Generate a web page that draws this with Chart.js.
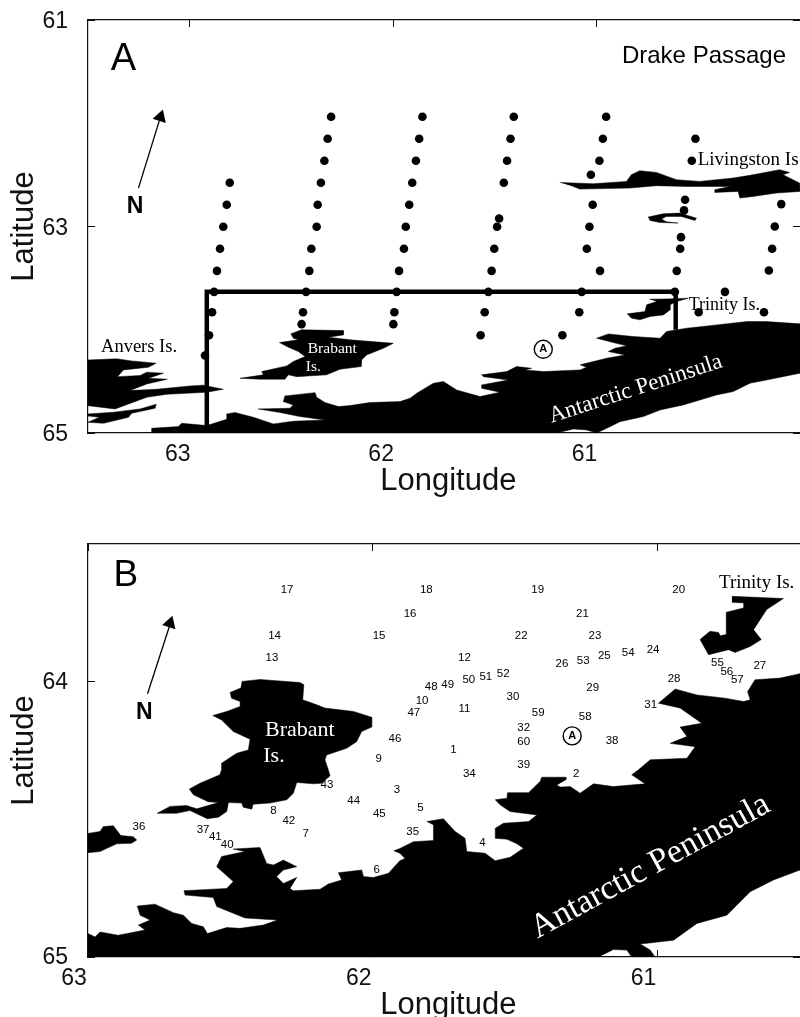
<!DOCTYPE html>
<html>
<head>
<meta charset="utf-8">
<title>Stations, Drake Passage</title>
<script src="https://cdn.jsdelivr.net/npm/chart.js@4/dist/chart.umd.min.js"></script>
<style>
    html, body { margin: 0; padding: 0; background: #fff; overflow: hidden; }
    canvas { position: absolute; left: 0; }
    #panelA { top: 0; }
    #panelB { top: 510px; }
</style>
</head>
<body>
<canvas id="panelA" width="800" height="510"></canvas>
<canvas id="panelB" width="800" height="507"></canvas>
<script>
// all values are [degrees W, degrees S]
const lonTicksA = [63, 62, 61];
const latTicksA = [61, 63, 65];
const lonTicksB = [63, 62, 61];
const latTicksB = [64, 65];

// panel A sampling tracks
const track1 = [[62.803,62.576],[62.818,62.789],[62.835,63.003],[62.851,63.216],[62.866,63.430],[62.880,63.633],[62.890,63.830],[62.905,64.053],[62.925,64.250]];
const track2 = [[62.305,61.937],[62.322,62.150],[62.338,62.363],[62.355,62.576],[62.371,62.789],[62.376,63.003],[62.402,63.216],[62.412,63.430],[62.428,63.633],[62.443,63.830],[62.450,63.946]];
const track3 = [[61.856,61.937],[61.872,62.150],[61.888,62.363],[61.906,62.576],[61.921,62.789],[61.938,63.003],[61.947,63.216],[61.971,63.430],[61.983,63.633],[61.994,63.830],[61.999,63.946]];
const track4 = [[61.407,61.937],[61.423,62.150],[61.440,62.363],[61.456,62.576],[61.479,62.922],[61.489,63.003],[61.503,63.216],[61.516,63.430],[61.532,63.633],[61.550,63.830],[61.570,64.053]];
const track5 = [[60.953,61.937],[60.969,62.150],[60.986,62.363],[61.028,62.499],[61.019,62.789],[61.035,63.003],[61.048,63.216],[60.983,63.430],[61.073,63.633],[61.085,63.830],[61.168,64.053]];
const track6 = [[60.514,62.150],[60.532,62.363],[60.565,62.741],[60.570,62.844],[60.585,63.103],[60.589,63.216],[60.606,63.430],[60.615,63.633]];
const track7 = [[60.092,62.783],[60.124,63.000],[60.137,63.216],[60.153,63.426],[60.369,63.633],[60.498,63.830],[60.177,63.830]];
const insetBox = [[62.916,64.96],[62.916,63.633],[60.611,63.633],[60.611,64.0]];

// panel A coastline
const anversA = [[63.5,64.292],[63.359,64.282],[63.285,64.302],[63.165,64.324],[63.203,64.363],[63.326,64.389],[63.355,64.454],[63.244,64.444],[63.211,64.411],[63.129,64.421],[63.203,64.470],[63.110,64.479],[63.211,64.525],[63.293,64.589],[63.162,64.576],[62.998,64.544],[62.933,64.537],[62.835,64.576],[62.916,64.605],[63.113,64.625],[63.211,64.654],[63.367,64.767],[63.5,64.735]];
const anversLowA = [[63.5,64.815],[63.375,64.799],[63.244,64.767],[63.165,64.722],[63.170,64.760],[63.285,64.809],[63.301,64.848],[63.424,64.906],[63.5,64.896],[63.444,64.848],[63.5,64.835]];
const brabantA = [[62.504,64.040],[62.450,64.001],[62.245,64.008],[62.245,64.050],[62.319,64.072],[62.212,64.098],[61.999,64.131],[62.048,64.179],[62.130,64.244],[62.155,64.292],[62.158,64.357],[62.261,64.382],[62.327,64.437],[62.474,64.454],[62.515,64.437],[62.532,64.479],[62.654,64.479],[62.753,64.470],[62.638,64.437],[62.646,64.405],[62.523,64.350],[62.491,64.308],[62.433,64.260],[62.466,64.211],[62.515,64.169],[62.559,64.124],[62.466,64.098],[62.491,64.082]];
const peninsulaA = [[63.187,65],[63.187,64.954],[63.056,64.938],[63.039,64.906],[62.916,64.928],[62.818,64.867],[62.818,64.815],[62.777,64.802],[62.687,64.848],[62.589,64.912],[62.491,64.886],[62.335,64.873],[62.458,64.841],[62.556,64.802],[62.663,64.767],[62.507,64.760],[62.491,64.728],[62.540,64.696],[62.532,64.641],[62.384,64.609],[62.376,64.654],[62.335,64.705],[62.269,64.744],[62.212,64.734],[62.114,64.705],[61.966,64.696],[61.917,64.663],[61.884,64.615],[61.802,64.518],[61.753,64.502],[61.688,64.583],[61.573,64.647],[61.475,64.605],[61.565,64.567],[61.565,64.534],[61.434,64.486],[61.556,64.454],[61.565,64.437],[61.442,64.405],[61.393,64.357],[61.319,64.373],[61.352,64.389],[61.262,64.405],[61.081,64.389],[61.049,64.363],[61.081,64.340],[61.016,64.308],[60.950,64.276],[60.860,64.244],[60.942,64.211],[60.909,64.179],[60.852,64.156],[60.918,64.124],[61.000,64.082],[60.942,64.040],[60.819,64.066],[60.688,64.082],[60.656,64.017],[60.557,63.985],[60.410,63.953],[60.262,63.921],[60.164,63.921],[60.0,63.943],[60.0,64.421],[60.164,64.486],[60.246,64.518],[60.328,64.599],[60.410,64.631],[60.492,64.680],[60.574,64.728],[60.688,64.777],[60.770,64.841],[60.885,64.890],[60.950,64.954],[61.000,65],[61.049,64.970],[61.114,64.961],[61.196,65]];
const trinityA = [[60.741,63.704],[60.656,63.701],[60.549,63.694],[60.606,63.727],[60.639,63.759],[60.639,63.808],[60.672,63.856],[60.737,63.872],[60.787,63.904],[60.828,63.888],[60.849,63.846],[60.762,63.824],[60.754,63.759],[60.705,63.727]];
const livingstonA = [[61.181,62.573],[61.017,62.586],[60.853,62.563],[60.829,62.499],[60.788,62.460],[60.706,62.476],[60.607,62.547],[60.493,62.563],[60.329,62.531],[60.231,62.499],[60.100,62.450],[60.051,62.476],[60.083,62.499],[60.001,62.580],[60.0,62.660],[60.116,62.676],[60.231,62.709],[60.296,62.725],[60.304,62.660],[60.419,62.670],[60.419,62.644],[60.345,62.612],[60.558,62.612],[60.706,62.605],[60.837,62.628],[61.082,62.638],[61.115,62.612]];
const deceptionA = [[60.747,62.909],[60.673,62.877],[60.591,62.870],[60.509,62.919],[60.517,62.941],[60.583,62.903],[60.657,62.903],[60.681,62.928],[60.657,62.954],[60.599,62.967],[60.689,62.961],[60.738,62.941]];

// panel B coastline
const anversB = [[63,64.551],[62.958,64.544],[62.946,64.526],[62.911,64.523],[62.885,64.559],[62.841,64.563],[62.829,64.575],[62.847,64.587],[62.899,64.589],[62.958,64.617],[63,64.621]];
const brabantB = [[62.460,63.999],[62.396,63.992],[62.256,64.003],[62.242,64.011],[62.246,64.066],[62.197,64.084],[62.168,64.096],[62.068,64.108],[62.004,64.129],[62.004,64.165],[62.039,64.181],[62.057,64.218],[62.092,64.242],[62.162,64.266],[62.168,64.284],[62.156,64.321],[62.150,64.342],[62.180,64.369],[62.209,64.371],[62.267,64.366],[62.279,64.405],[62.302,64.429],[62.361,64.441],[62.420,64.445],[62.425,64.463],[62.455,64.456],[62.460,64.441],[62.507,64.439],[62.513,64.472],[62.542,64.492],[62.581,64.498],[62.642,64.468],[62.689,64.478],[62.757,64.478],[62.712,64.453],[62.654,64.450],[62.618,64.462],[62.542,64.439],[62.578,64.436],[62.630,64.411],[62.644,64.390],[62.607,64.369],[62.537,64.338],[62.531,64.320],[62.531,64.296],[62.478,64.260],[62.437,64.248],[62.431,64.209],[62.490,64.181],[62.531,64.139],[62.562,64.123],[62.513,64.108],[62.466,64.090],[62.466,64.072],[62.496,64.060],[62.501,64.039],[62.464,64.023]];
const trinityB = [[60.739,63.690],[60.558,63.698],[60.617,63.738],[60.663,63.811],[60.636,63.847],[60.675,63.872],[60.728,63.894],[60.751,63.884],[60.821,63.902],[60.851,63.847],[60.816,63.817],[60.786,63.821],[60.780,63.833],[60.759,63.829],[60.759,63.748],[60.698,63.732],[60.698,63.714],[60.739,63.712]];
const peninsulaB = [[63,65],[63,64.915],[62.975,64.927],[62.958,64.909],[62.894,64.921],[62.800,64.902],[62.823,64.884],[62.782,64.866],[62.817,64.848],[62.827,64.815],[62.765,64.808],[62.700,64.839],[62.665,64.848],[62.636,64.878],[62.595,64.890],[62.581,64.915],[62.513,64.893],[62.466,64.896],[62.384,64.884],[62.335,64.866],[62.449,64.858],[62.548,64.817],[62.560,64.784],[62.659,64.775],[62.663,64.759],[62.513,64.751],[62.490,64.726],[62.548,64.672],[62.531,64.635],[62.449,64.617],[62.490,64.608],[62.396,64.602],[62.373,64.660],[62.349,64.666],[62.314,64.648],[62.267,64.672],[62.314,64.684],[62.338,64.708],[62.314,64.733],[62.267,64.711],[62.291,64.751],[62.279,64.759],[62.185,64.754],[62.156,64.735],[62.109,64.720],[62.121,64.694],[62.039,64.684],[62.033,64.708],[61.998,64.711],[61.945,64.696],[61.905,64.650],[61.887,64.642],[61.905,64.623],[61.926,64.614],[61.905,64.606],[61.857,64.581],[61.787,64.577],[61.787,64.520],[61.810,64.508],[61.752,64.498],[61.711,64.544],[61.676,64.569],[61.670,64.617],[61.606,64.623],[61.570,64.650],[61.518,64.638],[61.471,64.605],[61.494,64.589],[61.529,64.572],[61.570,64.569],[61.570,64.532],[61.541,64.514],[61.453,64.508],[61.424,64.484],[61.518,64.472],[61.553,64.447],[61.570,64.429],[61.529,64.423],[61.527,64.403],[61.453,64.403],[61.412,64.362],[61.407,64.347],[61.322,64.347],[61.322,64.356],[61.354,64.375],[61.342,64.383],[61.307,64.381],[61.272,64.405],[61.225,64.371],[61.155,64.381],[61.044,64.371],[61.091,64.338],[61.067,64.320],[61.026,64.284],[60.897,64.278],[60.868,64.236],[60.956,64.224],[60.897,64.199],[60.921,64.165],[60.845,64.151],[60.921,64.096],[60.997,64.078],[60.938,64.027],[60.862,64.048],[60.763,64.060],[60.698,64.072],[60.675,64.066],[60.684,64.036],[60.658,63.993],[60.570,63.987],[60.5,63.971],[60.5,64.684],[60.593,64.720],[60.675,64.763],[60.757,64.848],[60.862,64.878],[60.944,64.939],[61.061,64.953],[61.026,64.975],[61.009,65],[61.091,65],[61.108,64.975],[61.155,64.973],[61.208,65]];

// panel B stations (33 is not on the map)
const stationNo = ["1","2","3","4","5","6","7","8","9","10","11","12","13","14","15","16","17","18","19","20","21","22","23","24","25","26","27","28","29","30","31","32","34","35","36","37","38","39","40","41","42","43","44","45","46","47","48","49","50","51","52","53","54","55","56","57","58","59","60"];
const stationLon = [61.717,61.286,61.915,61.615,61.833,61.986,62.236,62.349,61.979,61.827,61.678,61.678,62.354,62.345,61.978,61.869,62.301,61.812,61.421,60.926,61.264,61.479,61.220,61.016,61.187,61.336,60.641,60.942,61.228,61.508,61.024,61.470,61.661,61.860,62.821,62.596,61.160,61.470,62.511,62.553,62.295,62.161,62.067,61.977,61.922,61.856,61.795,61.737,61.663,61.603,61.542,61.261,61.103,60.790,60.757,60.720,61.254,61.419,61.470];
const stationLat = [64.249,64.333,64.393,64.585,64.457,64.683,64.553,64.468,64.281,64.069,64.100,63.915,63.915,63.834,63.835,63.752,63.667,63.667,63.667,63.668,63.753,63.835,63.835,63.883,63.906,63.934,63.941,63.989,64.021,64.055,64.083,64.169,64.333,64.544,64.529,64.538,64.216,64.301,64.592,64.564,64.507,64.376,64.432,64.481,64.207,64.112,64.017,64.010,63.993,63.983,63.970,63.923,63.895,63.932,63.963,63.993,64.129,64.112,64.218];

const SANS = "'Liberation Sans', Arial, sans-serif";
const SERIF = "'Liberation Serif', serif";

const textA = [
    { text: "A", lon: 63.326, lat: 61.378, font: "38px " + SANS },
    { text: "Drake Passage", lon: 60.472, lat: 61.355, font: "24px " + SANS },
    { text: "N", lon: 63.269, lat: 62.808, font: "bold 23px " + SANS },
    { text: "Livingston Is", lon: 60.255, lat: 62.36, font: "19px " + SERIF },
    { text: "Trinity Is.", lon: 60.372, lat: 63.76, font: "18px " + SERIF },
    { text: "Anvers Is.", lon: 63.249, lat: 64.165, font: "18.5px " + SERIF },
    { text: "Brabant", lon: 62.299, lat: 64.185, font: "15.5px " + SERIF, color: "#fff" },
    { text: "Is.", lon: 62.392, lat: 64.36, font: "15.5px " + SERIF, color: "#fff" },
    { text: "Antarctic Peninsula", lon: 60.808, lat: 64.575, font: "23px " + SERIF, color: "#fff", rot: -18 },
    { text: "A", lon: 61.262, lat: 64.189, font: "bold 11px " + SANS },
];
const textB = [
    { text: "B", lon: 62.867, lat: 63.615, font: "37px " + SANS },
    { text: "N", lon: 62.802, lat: 64.113, font: "bold 23px " + SANS },
    { text: "Trinity Is.", lon: 60.652, lat: 63.642, font: "19px " + SERIF },
    { text: "Brabant", lon: 62.256, lat: 64.176, font: "22px " + SERIF, color: "#fff" },
    { text: "Is.", lon: 62.347, lat: 64.269, font: "22px " + SERIF, color: "#fff" },
    { text: "Antarctic Peninsula", lon: 61.025, lat: 64.672, font: "34px " + SERIF, color: "#fff", rot: -28.7 },
    { text: "A", lon: 61.300, lat: 64.197, font: "bold 11px " + SANS },
];

const toPts = (list) => list.map((p) => ({ x: p[0], y: p[1] }));

function land(list) {
    return {
        data: toPts(list),
        showLine: true,
        fill: "shape",
        backgroundColor: "#000",
        borderColor: "#000",
        borderWidth: 0.5,
        tension: 0,
        pointRadius: 0,
    };
}

function dots(list) {
    return {
        data: toPts(list),
        backgroundColor: "#000",
        borderWidth: 0,
        pointRadius: 4.3,
    };
}

function arrow(tail, neck, head, angle) {
    return [
        {
            data: toPts([head]),
            pointStyle: "triangle",
            rotation: angle,
            backgroundColor: "#000",
            borderWidth: 0,
            pointRadius: 8,
        },
        {
            data: toPts([tail, neck]),
            showLine: true,
            borderColor: "#000",
            borderWidth: 1.3,
            pointRadius: 0,
        },
    ];
}

function circleMark(point) {
    return {
        data: toPts([point]),
        backgroundColor: "#fff",
        borderColor: "#000",
        borderWidth: 1.4,
        pointRadius: 9,
    };
}

function textPlugin(items) {
    return {
        id: "mapText",
        afterDatasetsDraw(chart) {
            const ctx = chart.ctx;
            ctx.save();
            ctx.textAlign = "center";
            ctx.textBaseline = "middle";
            items.forEach((t) => {
                ctx.save();
                ctx.translate(chart.scales.x.getPixelForValue(t.lon), chart.scales.y.getPixelForValue(t.lat));
                ctx.rotate(((t.rot || 0) * Math.PI) / 180);
                ctx.font = t.font;
                ctx.fillStyle = t.color || "#000";
                ctx.fillText(t.text, 0, 0);
                ctx.restore();
            });
            ctx.restore();
        },
    };
}

// station numbers sit on the points of a hidden-marker dataset
const stationText = {
    id: "stationText",
    afterDatasetsDraw(chart) {
        const ctx = chart.ctx;
        const meta = chart.getDatasetMeta(0);
        ctx.save();
        ctx.font = "11.5px " + SANS;
        ctx.fillStyle = "#000";
        ctx.textAlign = "center";
        ctx.textBaseline = "middle";
        meta.data.forEach((pt, i) => ctx.fillText(stationNo[i], pt.x, pt.y));
        ctx.restore();
    },
};

function axis(cfg) {
    const isX = cfg.id === "x" || cfg.id === "x2";
    const hasTitle = cfg.title != null;
    return {
        type: "linear",
        position: cfg.position,
        reverse: true,
        min: cfg.min,
        max: cfg.max,
        afterBuildTicks: (s) => { s.ticks = cfg.ticks.map((v) => ({ value: v })); },
        afterFit: (s) => {
            if (isX) { s.height = cfg.size; } else { s.width = cfg.size; }
            // tick padding would otherwise push the plot area in
            s.paddingLeft = 0;
            s.paddingRight = 0;
            s.paddingTop = 0;
            s.paddingBottom = 0;
        },
        border: { display: cfg.border !== false, color: "#111", width: 1.2 },
        grid: { drawOnChartArea: false, tickLength: -7, color: "#111", lineWidth: 1 },
        ticks: {
            display: hasTitle,
            autoSkip: false,
            maxRotation: 0,
            color: "#111",
            font: { size: 23, family: SANS },
            padding: cfg.padding || 0,
            labelOffset: cfg.labelOffset || 0,
            callback: (v) => String(v),
        },
        title: {
            display: hasTitle,
            text: cfg.title,
            color: "#111",
            font: { size: 31, family: SANS },
            padding: cfg.titlePadding,
        },
    };
}

function options(cfg) {
    return {
        responsive: false,
        animation: false,
        events: [],
        layout: { padding: 0, autoPadding: false },
        plugins: { legend: { display: false }, tooltip: { enabled: false } },
        scales: {
            x: axis({ id: "x", position: "bottom", min: cfg.lonMin, max: cfg.lonMax, ticks: cfg.lonTicks, size: cfg.bottom, padding: 15, labelOffset: cfg.xOffset, title: " Longitude", titlePadding: { top: 0, bottom: cfg.titleBottom } }),
            x2: axis({ id: "x2", position: "top", min: cfg.lonMin, max: cfg.lonMax, ticks: cfg.lonTicks, size: cfg.top }),
            y: axis({ id: "y", position: "left", min: cfg.latMin, max: cfg.latMax, ticks: cfg.latTicks, size: 88, padding: 27, labelOffset: cfg.yOffset, title: "Latitude", titlePadding: { top: 6, bottom: 0 } }),
            y2: axis({ id: "y2", position: "right", min: cfg.latMin, max: cfg.latMax, ticks: cfg.latTicks, size: 0, border: false }),
        },
    };
}

new Chart(document.getElementById("panelA"), {
    type: "scatter",
    data: {
        datasets: [
            dots(track1), dots(track2), dots(track3), dots(track4), dots(track5), dots(track6), dots(track7),
            { data: toPts(insetBox), showLine: true, borderColor: "#000", borderWidth: 4.5, pointRadius: 0 },
            ...arrow([63.252, 62.628], [63.149, 61.972], [63.144, 61.940], 18),
            circleMark([61.262, 64.189]),
            land(anversA), land(anversLowA), land(brabantA), land(peninsulaA), land(trinityA), land(livingstonA), land(deceptionA),
        ],
    },
    options: options({ lonMin: 60, lonMax: 63.5, latMin: 61, latMax: 65, lonTicks: lonTicksA, latTicks: latTicksA, top: 20, bottom: 77, xOffset: -12, yOffset: 2, titleBottom: 10 }),
    plugins: [textPlugin(textA)],
});

new Chart(document.getElementById("panelB"), {
    type: "scatter",
    data: {
        datasets: [
            { data: stationLon.map((lon, i) => ({ x: lon, y: stationLat[i] })), pointRadius: 0, borderWidth: 0 },
            ...arrow([62.791, 64.044], [62.714, 63.799], [62.712, 63.788], 17.5),
            circleMark([61.300, 64.197]),
            land(anversB), land(brabantB), land(trinityB), land(peninsulaB),
        ],
    },
    options: options({ lonMin: 60.5, lonMax: 63, latMin: 63.5, latMax: 65, lonTicks: lonTicksB, latTicks: latTicksB, top: 34, bottom: 60, xOffset: -14, yOffset: 1, titleBottom: -7 }),
    plugins: [textPlugin(textB), stationText],
});
</script>
</body>
</html>
